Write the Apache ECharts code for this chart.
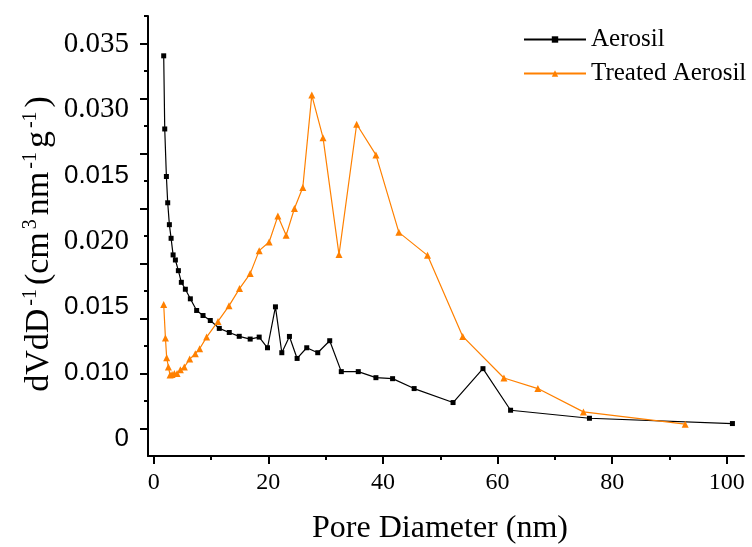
<!DOCTYPE html>
<html>
<head>
    <meta charset="utf-8" />
    <title>Pore size distribution</title>
    <script src="https://cdn.jsdelivr.net/npm/echarts@6/dist/echarts.min.js"></script>
    <style>
        html, body { margin: 0; padding: 0; background: #fff; }
        #chart { width: 752px; height: 547px; }
    </style>
</head>
<body>
<div id="chart"></div>
<script type="text/javascript">
    // data (pore diameter nm, dV/dD)
    var aerosilX = [1.74, 1.92, 2.21, 2.44, 2.73, 3.03, 3.38, 3.78, 4.30, 4.82, 5.52, 6.39, 7.49, 8.60, 9.87,
        11.44, 13.18, 14.92, 16.83, 18.40, 19.85, 21.24, 22.35, 23.68, 25.02, 26.70, 28.62, 30.71,
        32.73, 35.69, 38.77, 41.68, 45.44, 52.23, 57.45, 62.27, 76.03, 100.98];
    var aerosilY = [0.03388, 0.02723, 0.02291, 0.02052, 0.01853, 0.01729, 0.01578, 0.01532, 0.01435, 0.01329,
        0.01266, 0.01179, 0.01073, 0.01027, 0.00982, 0.00910, 0.00873, 0.00838, 0.00813, 0.00831,
        0.00734, 0.01106, 0.00689, 0.00837, 0.00637, 0.00734, 0.00689, 0.00798, 0.00517, 0.00517,
        0.00462, 0.00453, 0.00363, 0.00236, 0.00544, 0.00166, 0.00093, 0.00045];

    var treatedX = [1.74, 2.04, 2.26, 2.56, 2.85, 3.20, 3.60, 4.07, 4.65, 5.34, 6.27, 7.26, 8.01, 9.23,
        11.21, 13.13, 14.97, 16.83, 18.40, 20.14, 21.66, 23.10, 24.55, 26.01, 27.58, 29.54, 32.33,
        35.41, 38.77, 42.78, 47.77, 53.92, 61.11, 67.03, 74.98, 92.74];
    var treatedY = [0.01127, 0.00822, 0.00644, 0.00559, 0.00486, 0.00492, 0.00499, 0.00499, 0.00535, 0.00559,
        0.00631, 0.00680, 0.00725, 0.00831, 0.00973, 0.01115, 0.01272, 0.01408, 0.01617, 0.01696,
        0.01931, 0.01756, 0.02000, 0.02191, 0.03031, 0.02644, 0.01581, 0.02766, 0.02487, 0.01783,
        0.01574, 0.00837, 0.00459, 0.00363, 0.00151, 0.00039];

    var seriesNames = ['Aerosil', 'Treated Aerosil'];
    // tick labels as printed on the picture, bottom to top
    var yTickLabels = ['0', '0.010', '0.015', '0.020', '0.015', '0.030', '0.035'];
    var xTickLabels = [0, 20, 40, 60, 80, 100];
    var xMinorTicks = [10, 30, 50, 70, 90];
    var yMajorTicks = [0, 0.005, 0.010, 0.015, 0.020, 0.025, 0.030, 0.035];
    var yMinorTicks = [0.0025, 0.0075, 0.0125, 0.0175, 0.0225, 0.0275, 0.0325, 0.0375];

    function pairs(xs, ys) {
        return xs.map(function (x, i) { return [x, ys[i]]; });
    }

    var serif = 'Liberation Serif';
    var sans = 'Liberation Sans';
    var sansLabels = [0, 1, 2, 4]; // these labels are drawn in a sans face on the picture

    var option = {
        animation: false,
        backgroundColor: '#fff',
        grid: { left: 148, right: 8, top: 16, bottom: 91, containLabel: false, outerBoundsMode: 'none' },
        legend: {
            orient: 'vertical',
            left: 518,
            top: 22,
            itemWidth: 62,
            itemHeight: 8,
            itemGap: 9,
            textStyle: { fontFamily: serif, fontSize: 25, color: '#000' },
            data: seriesNames
        },
        xAxis: [{
            type: 'value',
            min: -1,
            max: 103,
            position: 'bottom',
            name: 'Pore Diameter (nm)',
            nameLocation: 'middle',
            nameGap: 57,
            nameTextStyle: { fontFamily: serif, fontSize: 32, color: '#000', padding: [0, 12, 0, 0] },
            axisLine: { onZero: false, lineStyle: { color: '#000', width: 2 } },
            axisTick: { customValues: xTickLabels, length: 8, lineStyle: { color: '#000', width: 2 } },
            axisLabel: { customValues: xTickLabels, margin: 15, fontFamily: serif, fontSize: 24, color: '#000' },
            splitLine: { show: false }
        }, {
            type: 'value',
            min: -1,
            max: 103,
            position: 'bottom',
            axisLine: { show: false, onZero: false },
            axisTick: { customValues: xMinorTicks, length: 4, lineStyle: { color: '#000', width: 2 } },
            axisLabel: { show: false },
            splitLine: { show: false }
        }],
        yAxis: [{
            type: 'value',
            min: -0.0025,
            max: 0.0375,
            position: 'left',
            name: 'dVdD{s|-1}(cm{s|3}nm{s|-1}g{s|-1})',
            nameLocation: 'middle',
            nameGap: 91,
            nameTextStyle: {
                fontFamily: serif, fontSize: 34, color: '#000',
                padding: [0, 16, 0, 0],
                rich: {
                    s: { fontFamily: serif, fontSize: 20, color: '#000', verticalAlign: 'top', padding: [0, 4, 16, 3] }
                }
            },
            axisLine: { onZero: false, lineStyle: { color: '#000', width: 2 } },
            axisTick: { customValues: yMajorTicks, length: 8, lineStyle: { color: '#000', width: 2 } },
            axisLabel: { show: false },
            splitLine: { show: false }
        }, {
            type: 'value',
            min: -0.0025,
            max: 0.0375,
            position: 'left',
            axisLine: { show: false, onZero: false },
            axisTick: { customValues: yMinorTicks, length: 4, lineStyle: { color: '#000', width: 2 } },
            axisLabel: { show: false },
            splitLine: { show: false }
        }, {
            // label axis: printed labels sit on an even spacing of their own
            type: 'value',
            min: -0.263,
            max: 6.424,
            position: 'left',
            axisLine: { show: false, onZero: false },
            axisTick: { show: false },
            splitLine: { show: false },
            axisLabel: {
                customValues: [0, 1, 2, 3, 4, 5, 6],
                margin: 19,
                formatter: function (v) {
                    var i = Math.round(v);
                    var key = sansLabels.indexOf(i) >= 0 ? 'a' : 'b';
                    return '{' + key + '|' + yTickLabels[i] + '}';
                },
                rich: {
                    a: { fontFamily: sans, fontSize: 26, color: '#000' },
                    b: { fontFamily: serif, fontSize: 29, color: '#000' }
                }
            }
        }],
        series: [{
            name: seriesNames[0],
            type: 'line',
            xAxisIndex: 0,
            yAxisIndex: 0,
            data: pairs(aerosilX, aerosilY),
            symbol: 'rect',
            symbolSize: 5,
            itemStyle: { color: '#000' },
            lineStyle: { color: '#000', width: 1.2 }
        }, {
            name: seriesNames[1],
            type: 'line',
            xAxisIndex: 0,
            yAxisIndex: 0,
            data: pairs(treatedX, treatedY),
            symbol: 'triangle',
            symbolSize: 7,
            itemStyle: { color: '#ff8000' },
            lineStyle: { color: '#ff8000', width: 1.2 }
        }]
    };

    var myChart = echarts.init(document.getElementById('chart'));
    myChart.setOption(option);
</script>
</body>
</html>
